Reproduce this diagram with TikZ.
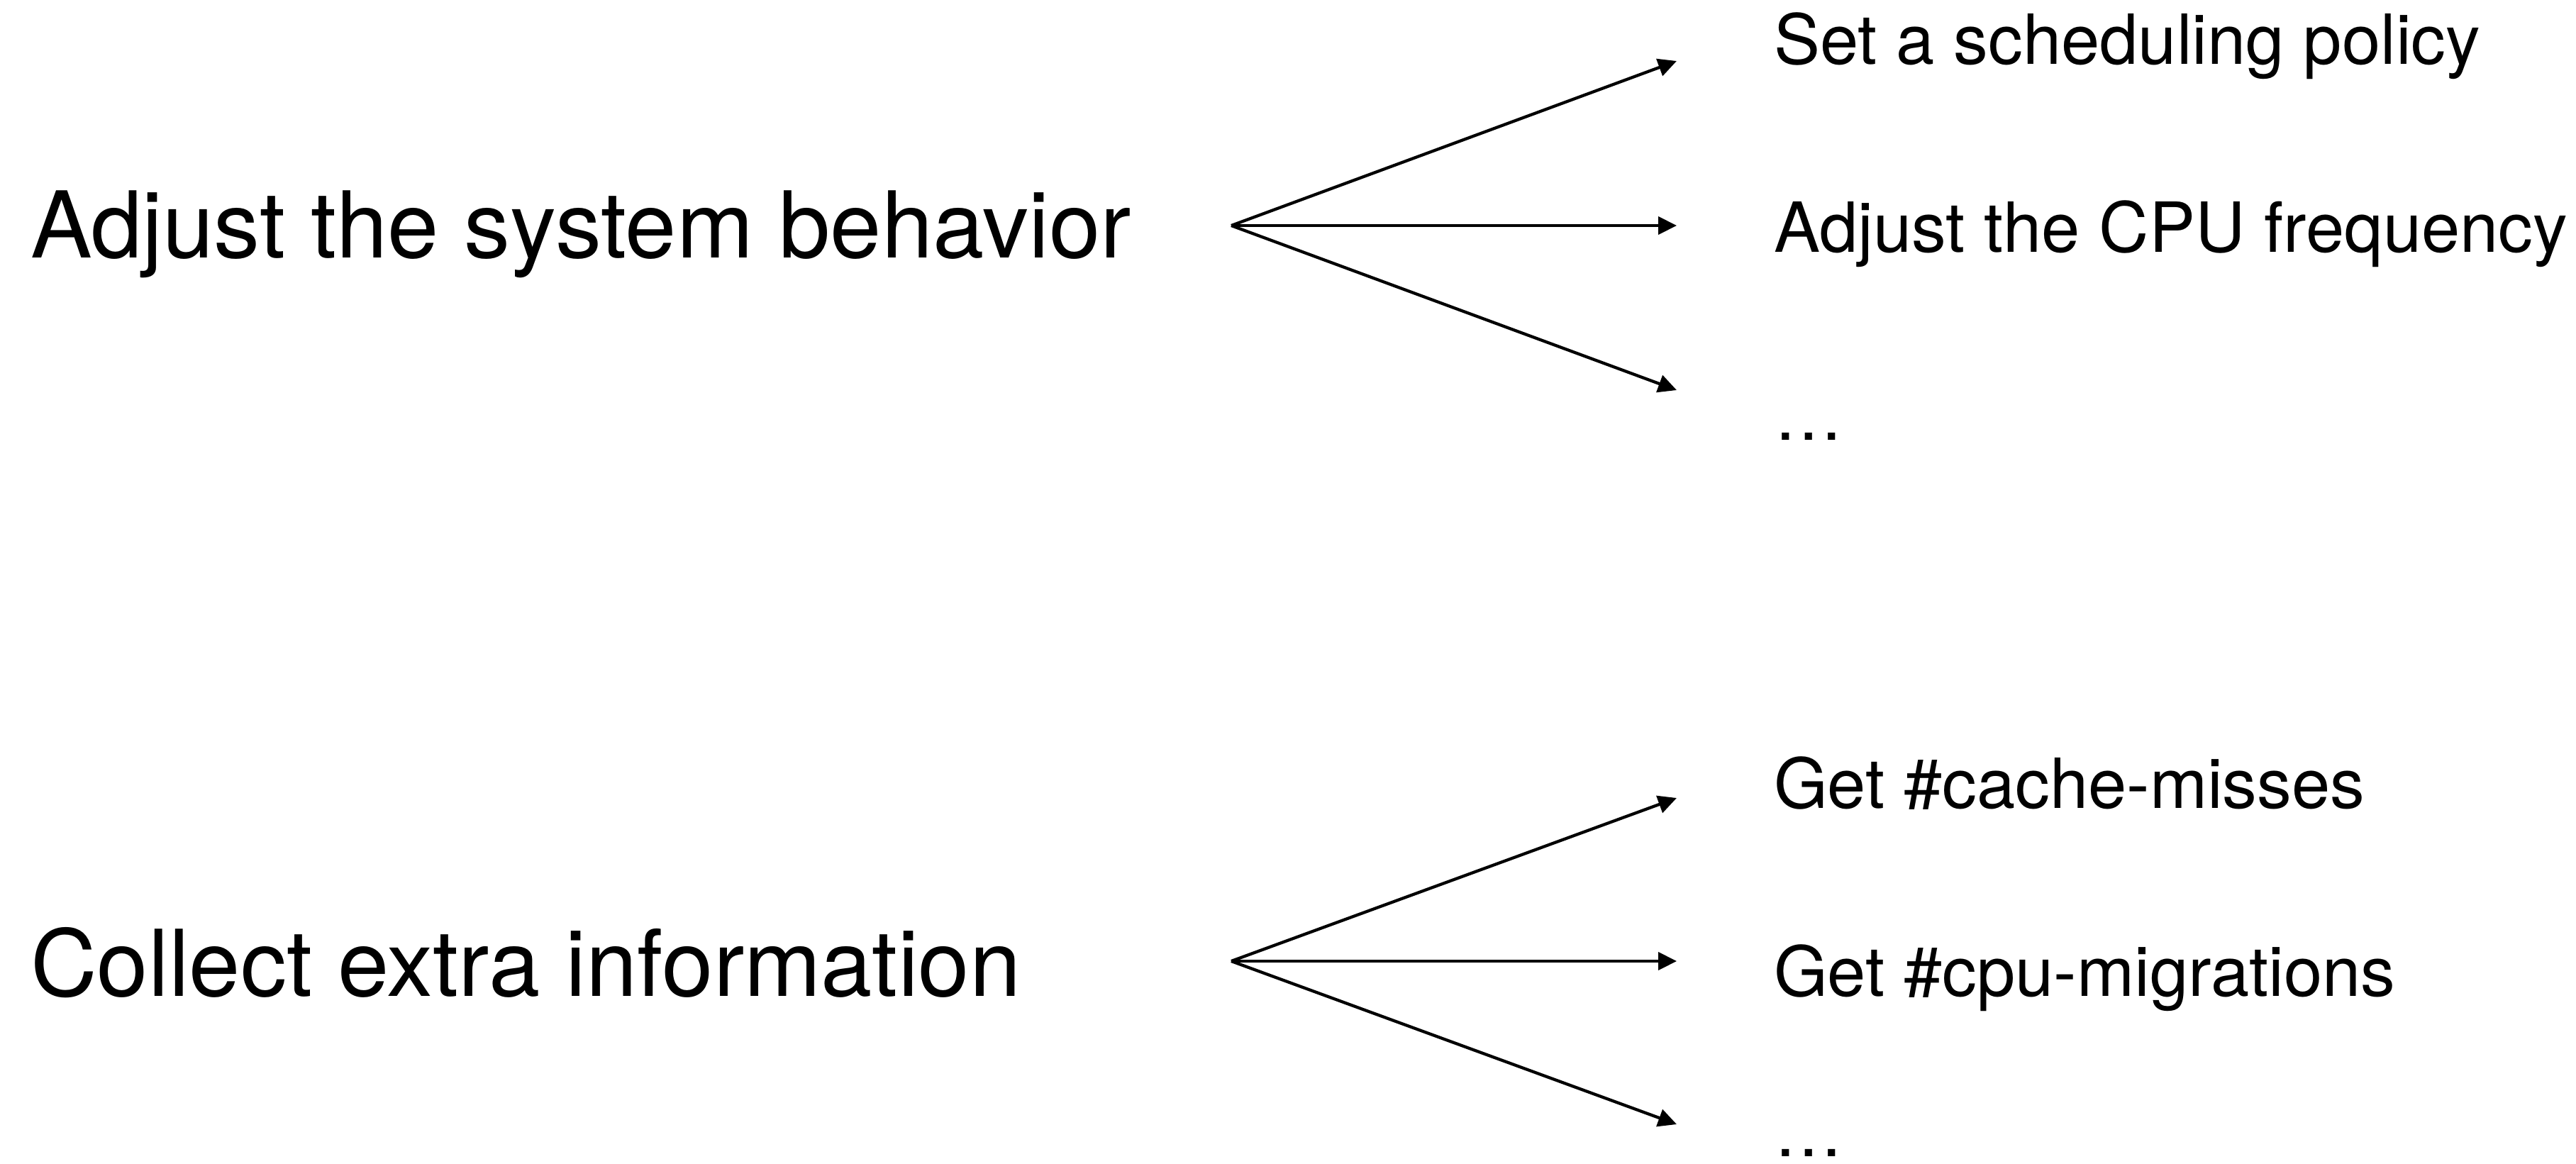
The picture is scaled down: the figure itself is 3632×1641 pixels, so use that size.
\documentclass[tikz,border=0pt]{standalone}
\usepackage{fontspec}
\setmainfont{TeX Gyre Heros}
\usetikzlibrary{arrows.meta}
\begin{document}
\begin{tikzpicture}[x=0.2pt,y=-0.2pt,
  headtext/.style={anchor=base west,inner sep=0pt,font=\fontsize{26pt}{30pt}\selectfont},
  itemtext/.style={anchor=base west,inner sep=0pt,font=\fontsize{19.5pt}{23pt}\selectfont},
  fanarrow/.style={line width=0.85pt,-{Triangle[length=5.2pt,width=5pt]}}]
\useasboundingbox (0,0) rectangle (3632,1641);

% upper group: adjusting the system
\node[headtext] (adjust) at (42,363) {Adjust the system behavior};
\coordinate (aroot) at (1736,318);
\coordinate (a1) at (2364,86);
\coordinate (a2) at (2364,318);
\coordinate (a3) at (2364,550);
\node[itemtext] (sched) at (2500,90) {Set a scheduling policy};
\node[itemtext] (freq) at (2500,355) {Adjust the CPU frequency};
\node[itemtext] (amore) at (2500,620) {\dots};
\draw[fanarrow] (aroot) -- (a1);
\draw[fanarrow] (aroot) -- (a2);
\draw[fanarrow] (aroot) -- (a3);

% lower group: collecting information
\node[headtext] (collect) at (42,1404) {Collect extra information};
\coordinate (croot) at (1736,1355);
\coordinate (c1) at (2364,1125);
\coordinate (c2) at (2364,1355);
\coordinate (c3) at (2364,1585);
\node[itemtext] (miss) at (2500,1139) {Get \#cache-misses};
\node[itemtext] (migr) at (2500,1404) {Get \#cpu-migrations};
\node[itemtext] (cmore) at (2500,1630) {\dots};
\draw[fanarrow] (croot) -- (c1);
\draw[fanarrow] (croot) -- (c2);
\draw[fanarrow] (croot) -- (c3);
\end{tikzpicture}
\end{document}
